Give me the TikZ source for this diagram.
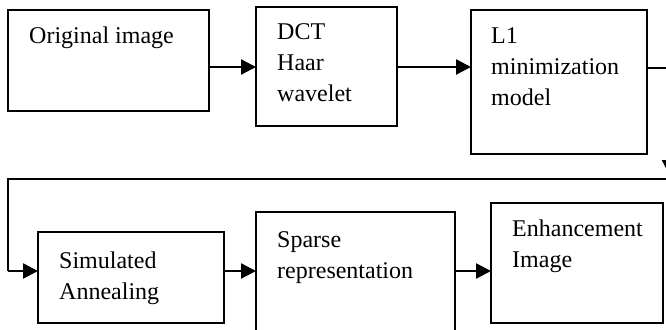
\documentclass[tikz,border=0pt]{standalone}
\usepackage{fontspec}
\setmainfont{Liberation Serif}
\usetikzlibrary{arrows.meta}
\tikzset{
  box/.style={draw, line width=1.3pt, anchor=north west, inner sep=0pt, outer sep=0pt},
  lbl/.style={anchor=base west, inner sep=0pt, font=\fontsize{24}{31}\selectfont},
  thick arrow/.style={line width=2.4pt, -{Triangle[length=15pt,width=15pt]}},
  thin line/.style={line width=1.3pt},
}
\newcommand{\mylines}[1]{\begin{tabular}[t]{@{}l@{}}#1\end{tabular}}
\begin{document}
\begin{tikzpicture}[x=1pt,y=-1pt]
\useasboundingbox (0,0) rectangle (666,329);
\clip (0,0) rectangle (666,329);
% boxes
\node[box, minimum width=201pt, minimum height=101pt] (orig) at (8,10) {};
\node[box, minimum width=141pt, minimum height=119pt] (dct) at (256,7) {};
\node[box, minimum width=176pt, minimum height=144pt] (lone) at (471,10) {};
\node[box, minimum width=186pt, minimum height=91pt] (sa) at (38,232) {};
\node[box, minimum width=199pt, minimum height=140pt] (sp) at (256,212) {};
\node[box, minimum width=172pt, minimum height=120pt] (en) at (491,203) {};
% texts
\node[lbl] (torig) at (29,44) {Original image};
\node[lbl] (tdct) at (277,40) {\mylines{DCT\\Haar\\wavelet}};
\node[lbl] (tlone) at (491,44) {\mylines{L1\\minimization\\model}};
\node[lbl] (tsa) at (59,268) {\mylines{Simulated\\Annealing}};
\node[lbl] (tsp) at (277,247) {\mylines{Sparse\\representation}};
\node[lbl] (ten) at (512,236) {\mylines{Enhancement\\Image}};
% connector coordinates
\coordinate (r1) at (669.5,68);
\coordinate (r2) at (669.5,175);
\coordinate (r3) at (669,179);
\coordinate (l1) at (8,179);
\coordinate (l2) at (8,271);
% connectors
\draw[thick arrow] (orig.east |- 0,67) -- (dct.west |- 0,67);
\draw[thick arrow] (dct.east |- 0,67) -- (lone.west |- 0,67);
\draw[thin line] (lone.east |- r1) -- (r1);
\draw[thick arrow] (r1) -- (r2);
\draw[thin line] (r3) -- (l1) -- (l2);
\draw[thick arrow] (l2) -- (sa.west |- l2);
\draw[thick arrow] (sa.east |- 0,271) -- (sp.west |- 0,271);
\draw[thick arrow] (sp.east |- 0,271) -- (en.west |- 0,271);
\end{tikzpicture}
\end{document}
